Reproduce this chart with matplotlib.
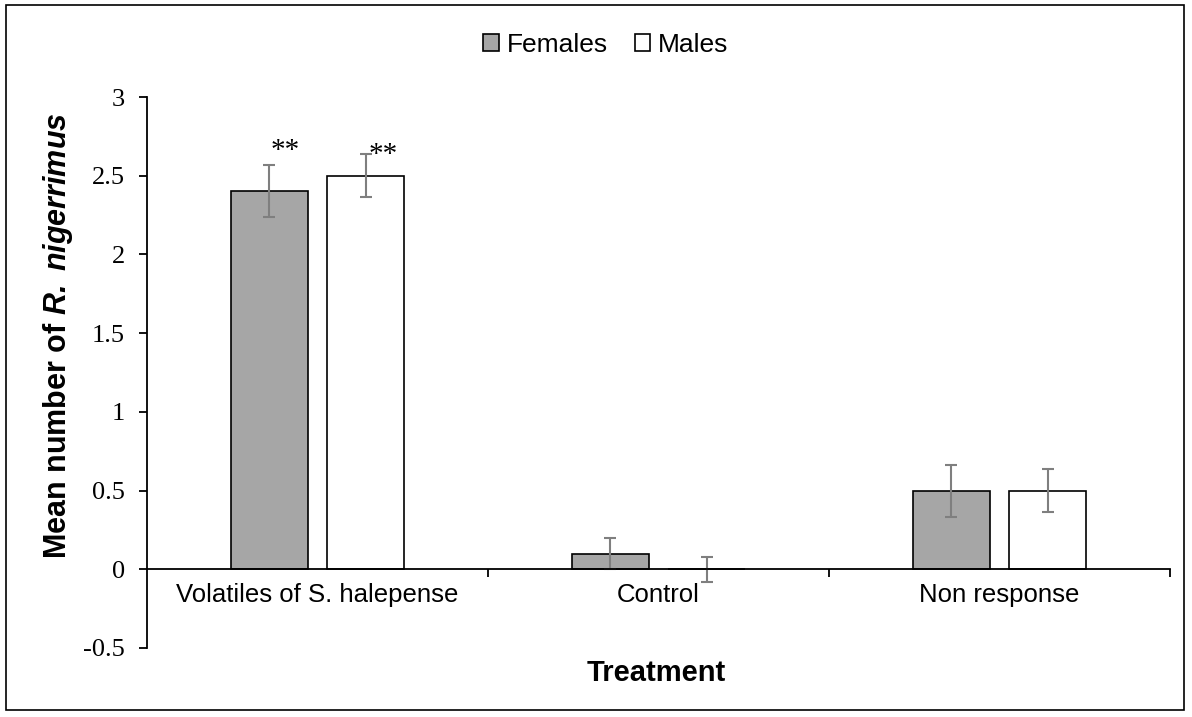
import matplotlib
matplotlib.use("Agg")
import matplotlib.pyplot as plt
import numpy as np
from matplotlib.patches import Rectangle

categories = ["Volatiles of S. halepense", "Control", "Non response"]
females = [2.4, 0.1, 0.5]
males = [2.5, 0.0, 0.5]
females_err = [0.165, 0.10, 0.165]
males_err = [0.135, 0.08, 0.135]
yticks = [-0.5, 0, 0.5, 1, 1.5, 2, 2.5, 3]
ytick_labels = ["-0.5", "0", "0.5", "1", "1.5", "2", "2.5", "3"]

plt.rcParams['mathtext.fontset'] = 'custom'
plt.rcParams['mathtext.bfit'] = 'Liberation Sans:italic:bold'
plt.rcParams['mathtext.it'] = 'Liberation Sans:italic'
plt.rcParams['mathtext.rm'] = 'Liberation Sans'
plt.rcParams['mathtext.bf'] = 'Liberation Sans:bold'

fig = plt.figure(figsize=(11.92, 7.17), dpi=100)
fig.patches.append(Rectangle((6/1192, 1 - 710/717), 1178/1192, 705/717,
                             transform=fig.transFigure, fill=False,
                             edgecolor='black', linewidth=1.2))
ax = fig.add_axes([147/1192, 1 - 648/717, (1170 - 147)/1192, (648 - 97)/717])

x = np.arange(len(categories))
w = 0.226
off = 0.142
ekw = dict(ecolor='#7f7f7f', elinewidth=1.5, capthick=1.5)
ax.bar(x - off, females, w, color='#a6a6a6', edgecolor='black', linewidth=1.2,
       yerr=females_err, capsize=4, error_kw=ekw, label='Females', zorder=2)
ax.bar(x + off, males, w, color='white', edgecolor='black', linewidth=1.2,
       yerr=males_err, capsize=4, error_kw=ekw, label='Males', zorder=2)

ax.set_xlim(-0.5, 2.5)
ax.set_ylim(-0.5, 3)
ax.spines['top'].set_visible(False)
ax.spines['right'].set_visible(False)
ax.spines['bottom'].set_position(('data', 0))
ax.spines['left'].set_linewidth(1.3)
ax.spines['bottom'].set_linewidth(1.3)

ax.set_yticks(yticks)
ax.set_yticklabels(ytick_labels, fontfamily='Liberation Serif', fontsize=19)
ax.tick_params(axis='y', direction='out', length=6, width=1.3, pad=10)

ax.set_xticks([0.5, 1.5, 2.5])
ax.set_xticklabels([])
ax.tick_params(axis='x', direction='out', length=6, width=1.3)
for xi, lab in zip(x, categories):
    ax.text(xi, -0.21, lab, ha='center', va='baseline', fontfamily='Liberation Sans',
            fontsize=18.5, transform=ax.transData)

ax.text(-0.095, 2.66, "**", ha='center', va='center', fontfamily='Liberation Serif', fontsize=21)
ax.text(0.192, 2.63, "**", ha='center', va='center', fontfamily='Liberation Serif', fontsize=21)

fig.text(656/1192, 1 - 681/717, "Treatment", ha='center', va='baseline',
         fontfamily='Liberation Sans', fontweight='bold', fontsize=21)
fig.text(58/1192, 1 - 336/717, r"Mean number of $\mathbfit{R.\ nigerrimus}$", ha='center', va='center',
         rotation=90, fontfamily='Liberation Sans', fontweight='bold', fontsize=22)

leg = fig.legend(loc='center', bbox_to_anchor=(606/1192, 1 - 45/717), ncol=2, frameon=False,
                 prop={'family': 'Liberation Sans', 'size': 19}, handlelength=0.6,
                 handleheight=0.6, handletextpad=0.3, columnspacing=1.0)

fig.savefig("out.png", dpi=100)
